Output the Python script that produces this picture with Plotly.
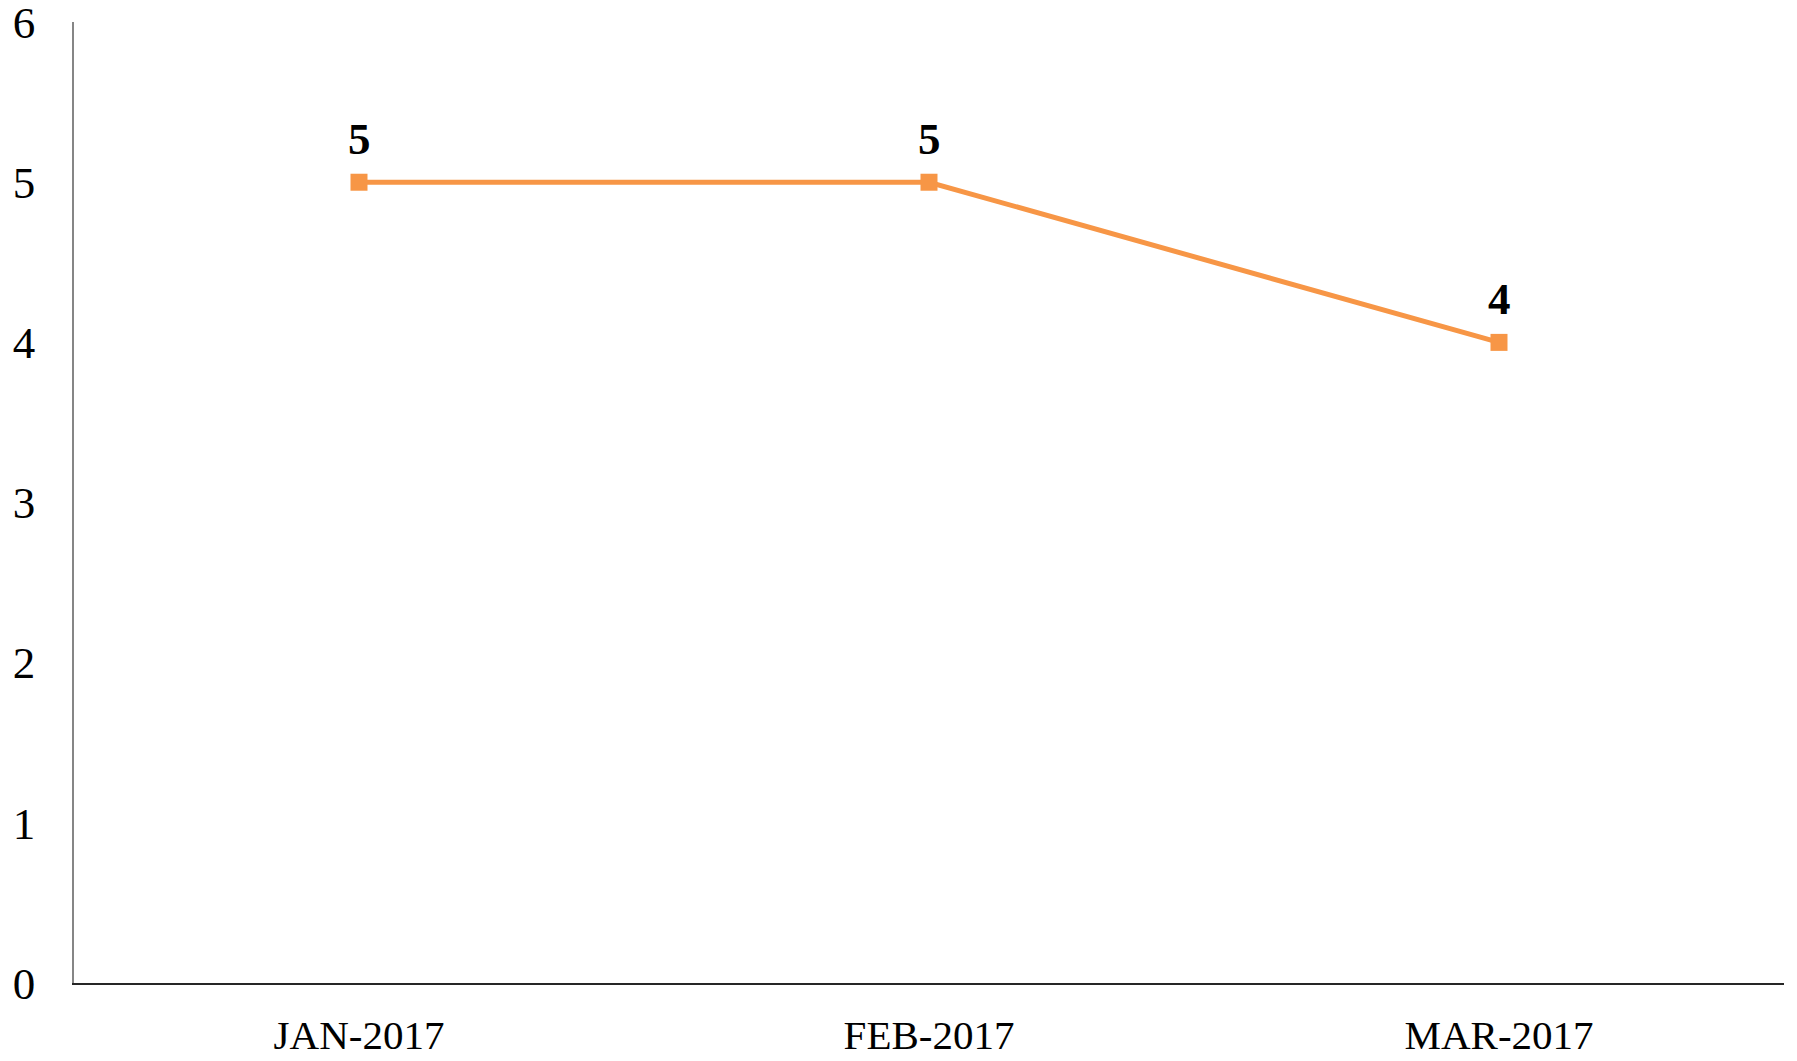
import plotly.graph_objects as go

categories = ["JAN-2017", "FEB-2017", "MAR-2017"]
values = [5, 5, 4]
y_ticks = [0, 1, 2, 3, 4, 5, 6]

FONT = "Liberation Serif, DejaVu Serif, serif"
ORANGE = "#F79646"

fig = go.Figure()
fig.add_trace(go.Scatter(
    x=categories, y=values, mode="lines+markers",
    line=dict(color=ORANGE, width=5),
    marker=dict(symbol="square", size=17, color=ORANGE),
    hoverinfo="skip", showlegend=False, cliponaxis=False,
))
for c, v in zip(categories, values):
    fig.add_annotation(x=c, y=v, text=f"<b>{v}</b>", showarrow=False,
                       yshift=43, font=dict(family=FONT, size=45, color="#000000"))

# page body adds an 8px margin at top/left, so the figure is sized 8px smaller
fig.update_layout(
    width=1789, height=1053,
    margin=dict(l=66, r=13, t=14, b=78),
    paper_bgcolor="white", plot_bgcolor="white",
    font=dict(family=FONT, size=43, color="#000000"),
)
fig.update_xaxes(
    type="category", range=[-0.5, 2.5], automargin=False,
    showgrid=False, zeroline=False,
    showline=True, linecolor="#262626", linewidth=1.5,
    ticks="outside", ticklen=15, tickcolor="rgba(0,0,0,0)",
    tickfont=dict(family=FONT, size=41, color="#000000"),
    ticklabeloverflow="allow",
)
fig.update_yaxes(
    range=[0, 6.0005], tickvals=y_ticks, automargin=False,
    showgrid=False, zeroline=False,
    showline=True, linecolor="#868686", linewidth=1.5,
    ticks="outside", ticklen=28, tickcolor="rgba(0,0,0,0)",
    tickfont=dict(family=FONT, size=45, color="#000000"),
    ticklabeloverflow="allow",
)

fig.write_html("out.html")
